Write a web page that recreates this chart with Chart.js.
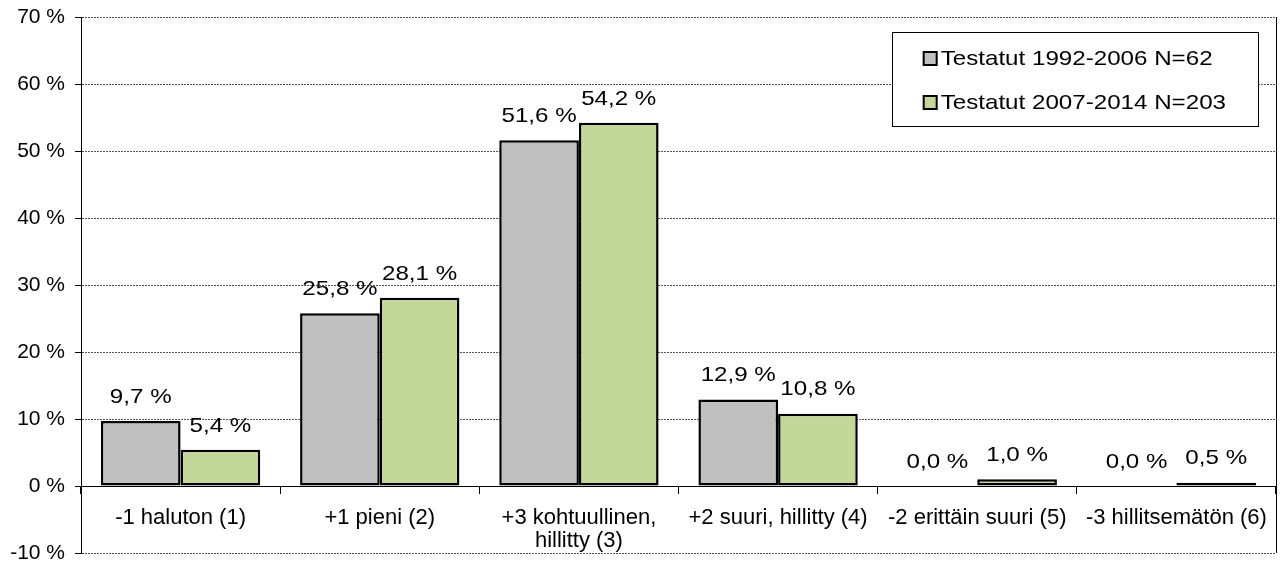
<!DOCTYPE html>
<html>
<head>
<meta charset="utf-8">
<script src="https://cdn.jsdelivr.net/npm/chart.js@4.4.0/dist/chart.umd.min.js"></script>
<style>
  html, body { margin: 0; padding: 0; background: #fff; }
  #wrap { width: 1282px; height: 561px; }
</style>
</head>
<body>
<div id="wrap"><canvas id="myChart"></canvas></div>
<script>
// data
var luokat = ['-1 haluton (1)', '+1 pieni (2)', ['+3 kohtuullinen,', 'hillitty (3)'],
  '+2 suuri, hillitty (4)', '-2 erittäin suuri (5)', '-3 hillitsemätön (6)'];
var sarja1Nimi = 'Testatut 1992-2006 N=62';
var sarja2Nimi = 'Testatut 2007-2014 N=203';
var sarja1 = [9.7, 25.8, 51.6, 12.9, 0.0, 0.0];
var sarja2 = [5.4, 28.1, 54.2, 10.8, 1.0, 0.5];
var yMin = -10, yMax = 70, yStep = 10;

var fontti = 'Arial, "Liberation Sans", sans-serif';

function muoto(v) {
  return v.toFixed(1).replace('.', ',') + ' %';
}

// stretched text like the original picture
function venytettyTeksti(ctx, teksti, x, y, venytys) {
  ctx.save();
  ctx.translate(x, y);
  ctx.scale(venytys, 1);
  ctx.fillText(teksti, 0, 0);
  ctx.restore();
}

var arvoPlugin = {
  id: 'arvot',
  afterDatasetsDraw: function(chart) {
    var ctx = chart.ctx;
    ctx.save();
    ctx.font = '21px ' + fontti;
    ctx.fillStyle = '#000';
    ctx.textAlign = 'center';
    ctx.textBaseline = 'middle';
    chart.data.datasets.forEach(function(ds, i) {
      chart.getDatasetMeta(i).data.forEach(function(bar, j) {
        venytettyTeksti(ctx, muoto(ds.data[j]), bar.x, bar.y - 24, 1.15);
      });
    });
    ctx.restore();
  }
};

var selitePlugin = {
  id: 'selite',
  afterDraw: function(chart) {
    var ctx = chart.ctx;
    var a = chart.chartArea;
    var ds = chart.data.datasets;
    ctx.save();
    ctx.font = '21px ' + fontti;
    var leveys = 0;
    ds.forEach(function(d) { leveys = Math.max(leveys, ctx.measureText(d.label).width * 1.15); });
    var w = 32 + 14 + 3 + leveys + 32;
    var h = 94;
    var x0 = a.right - 18 - w;
    var y0 = a.top + 15;
    ctx.fillStyle = '#fff';
    ctx.fillRect(x0, y0, w, h);
    ctx.strokeStyle = '#000';
    ctx.lineWidth = 1;
    ctx.strokeRect(Math.round(x0) + 0.5, Math.round(y0) + 0.5, Math.round(w), h);
    ds.forEach(function(d, i) {
      var yy = y0 + 26 + i * 44;
      ctx.fillStyle = d.backgroundColor;
      ctx.fillRect(x0 + 32, yy - 6, 13, 13);
      ctx.lineWidth = 2;
      ctx.strokeRect(x0 + 32, yy - 6, 13, 13);
      ctx.fillStyle = '#000';
      ctx.textAlign = 'left';
      ctx.textBaseline = 'middle';
      venytettyTeksti(ctx, d.label, x0 + 49, yy + 1, 1.15);
    });
    ctx.restore();
  }
};

var kehysPlugin = {
  id: 'kehys',
  beforeDatasetsDraw: function(chart) {
    var ctx = chart.ctx;
    var a = chart.chartArea;
    ctx.save();
    ctx.strokeStyle = '#000';
    ctx.lineWidth = 1;
    ctx.beginPath();
    ctx.moveTo(Math.round(a.right) + 0.5, a.top);
    ctx.lineTo(Math.round(a.right) + 0.5, a.bottom);
    ctx.stroke();
    ctx.restore();
  }
};

var ctx = document.getElementById('myChart').getContext('2d');
var myChart = new Chart(ctx, {
  type: 'bar',
  data: {
    labels: luokat,
    datasets: [{
      label: sarja1Nimi,
      data: sarja1,
      backgroundColor: '#C0C0C0',
      borderColor: '#000',
      borderWidth: 2.5,
      borderSkipped: false,
      categoryPercentage: 0.8,
      barPercentage: 1.0
    }, {
      label: sarja2Nimi,
      data: sarja2,
      backgroundColor: '#C4D79B',
      borderColor: '#000',
      borderWidth: 2.5,
      borderSkipped: false,
      categoryPercentage: 0.8,
      barPercentage: 1.0
    }]
  },
  options: {
    responsive: true,
    maintainAspectRatio: false,
    animation: false,
    layout: { padding: { top: 17, bottom: 8, left: 4, right: 6 } },
    plugins: {
      legend: { display: false },
      tooltip: { enabled: false },
      title: { display: false }
    },
    scales: {
      x: {
        position: { y: 0 },
        offset: true,
        grid: { offset: true, drawOnChartArea: false, tickLength: 7, color: '#000' },
        border: { color: '#000', width: 1 },
        ticks: {
          color: '#000',
          font: { family: fontti, size: 22, lineHeight: 1.05 },
          padding: 13,
          maxRotation: 0,
          autoSkip: false
        },
        afterFit: function(s) { s.height = 0; }
      },
      y: {
        min: yMin,
        max: yMax,
        ticks: {
          stepSize: yStep,
          color: '#000',
          font: { family: fontti, size: 21 },
          padding: 10,
          callback: function(v) { return v + ' %'; }
        },
        grid: {
          color: function(c) { return c.tick && c.tick.value === 0 ? 'rgba(0,0,0,0)' : '#555'; },
          tickColor: '#000',
          tickLength: 6
        },
        border: { color: '#000', width: 1, dash: [2, 1] },
        afterFit: function(s) {
          s.width = 77;
          s.paddingTop = 8;
          s.paddingBottom = 8;
        }
      }
    }
  },
  plugins: [kehysPlugin, arvoPlugin, selitePlugin]
});
</script>
</body>
</html>
